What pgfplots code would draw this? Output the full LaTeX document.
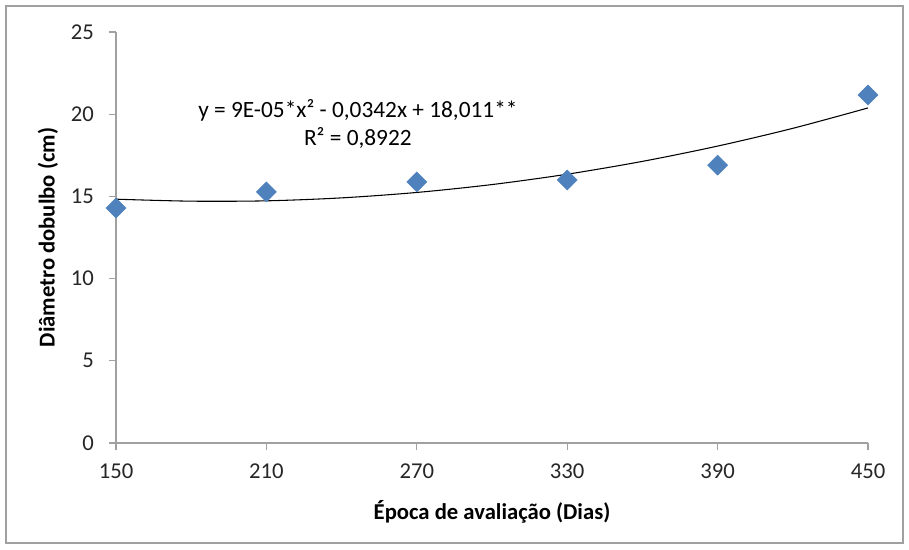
\documentclass[border=0pt]{standalone}
\usepackage{pgfplots}
\pgfplotsset{compat=1.18}
\usepackage{fontspec}
\setmainfont{Carlito}
\definecolor{mk}{HTML}{4F81BD}
\definecolor{ax}{HTML}{A0A0A0}
\begin{document}
\begin{tikzpicture}[x=0.75pt,y=0.75pt]
\begin{axis}[
  at={(0,0)}, anchor=origin,
  scale only axis,
  width=564pt, height=308.25pt,
  xmin=150, xmax=450, ymin=0, ymax=25,
  xtick={150,210,270,330,390,450},
  ytick={0,5,10,15,20,25},
  axis x line*=bottom, axis y line*=left,
  axis line style={ax, line width=0.8pt, -},
  tick style={ax, line width=0.8pt},
  tick align=outside, major tick length=5pt,
  every tick label/.append style={font=\fontsize{17}{19}\selectfont, text=black!85},
  /pgf/number format/assume math mode=true,
  xticklabel style={yshift=-7pt},
  yticklabel style={xshift=-8pt},
  xlabel={\bfseries Época de avaliação (Dias)},
  ylabel={\bfseries Diâmetro dobulbo (cm)},
  label style={font=\fontsize{17}{19}\selectfont\bfseries},
  xlabel style={at={(axis description cs:0.5,-0.168)}, anchor=center},
  ylabel style={at={(axis description cs:-0.0904,0.5)}, anchor=center, rotate=0},
  clip=false,
]
\addplot[black, line width=0.8pt, smooth] coordinates {
 (150,14.83) (180,14.71) (210,14.73) (240,14.91) (270,15.24) (300,15.72)
 (330,16.35) (360,17.13) (390,18.06) (420,19.14) (450,20.38)};
\addplot[only marks, mark=square*, mark size=5.3pt, mark options={rotate=45, fill=mk, draw=mk}] coordinates {
 (150,14.29) (210,15.27) (270,15.88) (330,16.0) (390,16.9) (450,21.17)};
\node[font=\fontsize{17.5}{21.5}\selectfont, align=center] at (axis cs:246.5,19.4) {y = 9E-05*x² - 0,0342x + 18,011**\\R² = 0,8922};
\end{axis}
\draw[ax, line width=0.8pt] (-110,-100) rectangle (787,437);
\path (-116,-106) rectangle (793,443);
\end{tikzpicture}
\end{document}
